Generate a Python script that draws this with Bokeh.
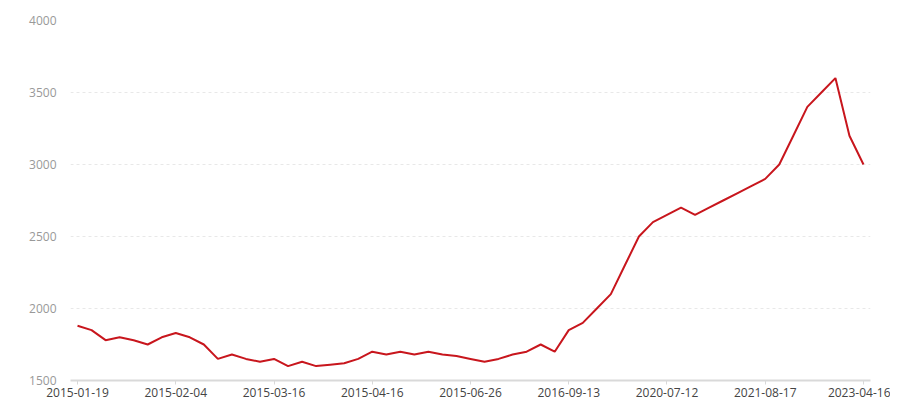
from bokeh.plotting import figure
from bokeh.models import ColumnDataSource, FixedTicker, Range1d
from bokeh.embed import file_html
from bokeh.resources import INLINE

# ---- data ----
tick_labels = ["2015-01-19", "2015-02-04", "2015-03-16", "2015-04-16", "2015-06-26",
               "2016-09-13", "2020-07-12", "2021-08-17", "2023-04-16"]
tick_every = 7
values = [1880, 1850, 1780, 1800, 1780, 1750, 1800, 1830, 1800, 1750,
          1650, 1680, 1650, 1630, 1650, 1600, 1630, 1600, 1610, 1620,
          1650, 1700, 1680, 1700, 1680, 1700, 1680, 1670, 1650, 1630,
          1650, 1680, 1700, 1750, 1700, 1850, 1900, 2000, 2100, 2300,
          2500, 2600, 2650, 2700, 2650, 2700, 2750, 2800, 2850, 2900,
          3000, 3200, 3400, 3500, 3600, 3200, 3000]
y_ticks = [1500, 2000, 2500, 3000, 3500, 4000]

idx = list(range(len(values)))
src = ColumnDataSource(dict(x=idx, y=values))

p = figure(width=890, height=400, output_backend="svg", toolbar_location=None,
           x_range=Range1d(-0.5, len(values) - 0.5), y_range=Range1d(1500, 4000),
           min_border_left=70, min_border_right=20, min_border_top=20, min_border_bottom=20)
p.outline_line_color = None
p.background_fill_color = "white"
p.border_fill_color = "white"

p.line("x", "y", source=src, line_color="#c8161d", line_width=2)

font = "Open Sans"
# x axis
xa = p.xaxis[0]
positions = [i * tick_every for i in range(len(tick_labels))]
xa.ticker = FixedTicker(ticks=positions)
xa.major_label_overrides = {pos: lab for pos, lab in zip(positions, tick_labels)}
xa.minor_tick_line_color = None
xa.axis_line_color = "#d9d9d9"
xa.axis_line_width = 2
xa.major_tick_line_color = "#d9d9d9"
xa.major_tick_in = 0
xa.major_tick_out = 4
xa.major_label_standoff = 3
xa.major_label_text_font = font
xa.major_label_text_font_size = "12px"
xa.major_label_text_color = "#444444"

# y axis
ya = p.yaxis[0]
ya.ticker = FixedTicker(ticks=y_ticks)
ya.axis_line_color = None
ya.major_tick_line_color = None
ya.minor_tick_line_color = None
ya.major_label_standoff = 8
ya.major_label_text_font = font
ya.major_label_text_font_size = "12px"
ya.major_label_text_color = "#999999"

p.xgrid.grid_line_color = None
p.ygrid.grid_line_color = "#e8e8e8"
p.ygrid.grid_line_dash = "3 3"
p.ygrid.grid_line_width = 1

open("out.html", "w").write(file_html(p, INLINE))
